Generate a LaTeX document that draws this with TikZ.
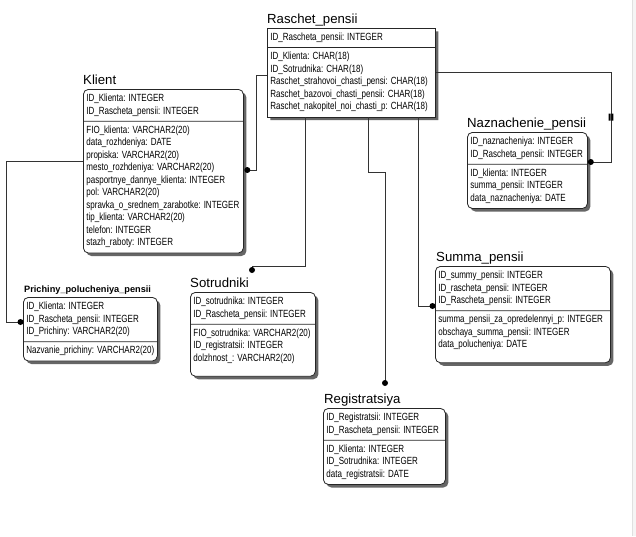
\documentclass[tikz,border=0pt]{standalone}
\usepackage{fontspec}
\setmainfont{Liberation Sans}
\newfontfamily\narrowfont[FakeStretch=0.77]{Liberation Sans}
\usetikzlibrary{shapes.multipart,shadows,calc}
\newcommand{\fields}[1]{\strut#1\strut}
\newcommand{\padbottom}{\rule[-11.5pt]{0pt}{0pt}}

\begin{document}
\begin{tikzpicture}[
  x=1pt, y=-1pt,
  entity/.style={rectangle split, rectangle split parts=2,
    rectangle split part align={left}, align=left, anchor=north west,
    draw=black!85, line width=0.8pt, fill=white, rounded corners=5pt,
    inner xsep=3pt, inner ysep=3pt,
    font=\narrowfont\fontsize{10.4}{12.5}\selectfont,
    drop shadow={shadow xshift=3pt, shadow yshift=-3pt,
      fill=black!60, opacity=1}},
  enttitle/.style={anchor=base west, inner sep=0pt,
    font=\fontsize{13.2}{15}\selectfont},
  link/.style={draw=black!80, line width=0.8pt},
  joindot/.style={circle, fill=black, inner sep=0pt, minimum size=6pt}
]
\fill[white] (0,0) rectangle (636,536);
\useasboundingbox (0,0) rectangle (636,536);
\fill[black!4] (632,0) rectangle (636,536);
\draw[black!12] (632,0) -- (632,536);

\node[entity, sharp corners, minimum width=168pt] (raschet) at (267,28) {%
  \fields{ID\_Rascheta\_pensii: INTEGER}
  \nodepart{second}\fields{ID\_Klienta: CHAR(18)\\
  ID\_Sotrudnika: CHAR(18)\\
  Raschet\_strahovoi\_chasti\_pensi: CHAR(18)\\
  Raschet\_bazovoi\_chasti\_pensii: CHAR(18)\\
  Raschet\_nakopitel\_noi\_chasti\_p: CHAR(18)}};
\node[entity, minimum width=160pt] (klient) at (83,89) {%
  \fields{ID\_Klienta: INTEGER\\
  ID\_Rascheta\_pensii: INTEGER}
  \nodepart{second}\fields{FIO\_klienta: VARCHAR2(20)\\
  data\_rozhdeniya: DATE\\
  propiska: VARCHAR2(20)\\
  mesto\_rozhdeniya: VARCHAR2(20)\\
  pasportnye\_dannye\_klienta: INTEGER\\
  pol: VARCHAR2(20)\\
  spravka\_o\_srednem\_zarabotke: INTEGER\\
  tip\_klienta: VARCHAR2(20)\\
  telefon: INTEGER\\
  stazh\_raboty: INTEGER}};
\node[entity, minimum width=120pt] (naznachenie) at (467,132) {%
  \fields{ID\_naznacheniya: INTEGER\\
  ID\_Rascheta\_pensii: INTEGER}
  \nodepart{second}\fields{ID\_klienta: INTEGER\\
  summa\_pensii: INTEGER\\
  data\_naznacheniya: DATE}};
\node[entity, minimum width=134pt] (prichiny) at (23,297) {%
  \fields{ID\_Klienta: INTEGER\\
  ID\_Rascheta\_pensii: INTEGER\\
  ID\_Prichiny: VARCHAR2(20)}
  \nodepart{second}\fields{Nazvanie\_prichiny: VARCHAR2(20)}};
\node[entity, minimum width=125pt] (sotrudniki) at (190,292) {%
  \fields{ID\_sotrudnika: INTEGER\\
  ID\_Rascheta\_pensii: INTEGER}
  \nodepart{second}\fields{FIO\_sotrudnika: VARCHAR2(20)\\
  ID\_registratsii: INTEGER\\
  dolzhnost\_: VARCHAR2(20)}\padbottom};
\node[entity, minimum width=175pt] (summa) at (435,266) {%
  \fields{ID\_summy\_pensii: INTEGER\\
  ID\_rascheta\_pensii: INTEGER\\
  ID\_Rascheta\_pensii: INTEGER}
  \nodepart{second}\fields{summa\_pensii\_za\_opredelennyi\_p: INTEGER\\
  obschaya\_summa\_pensii: INTEGER\\
  data\_polucheniya: DATE}\padbottom};
\node[entity, minimum width=122pt] (registratsiya) at (323,408) {%
  \fields{ID\_Registratsii: INTEGER\\
  ID\_Rascheta\_pensii: INTEGER}
  \nodepart{second}\fields{ID\_Klienta: INTEGER\\
  ID\_Sotrudnika: INTEGER\\
  data\_registratsii: DATE}};

% entity names
\node[enttitle] (raschetT) at ([yshift=4.5pt]raschet.north west) {Raschet\_pensii};
\node[enttitle] (klientT) at ([yshift=4.5pt]klient.north west) {Klient};
\node[enttitle] (naznachenieT) at ([yshift=4.5pt]naznachenie.north west) {Naznachenie\_pensii};
\node[enttitle, font=\bfseries\fontsize{9.2}{11}\selectfont] (prichinyT)
  at ([xshift=1pt,yshift=4.5pt]prichiny.north west) {Prichiny\_polucheniya\_pensii};
\node[enttitle] (sotrudnikiT) at ([yshift=5pt]sotrudniki.north west) {Sotrudniki};
\node[enttitle] (summaT) at ([xshift=1pt,yshift=5pt]summa.north west) {Summa\_pensii};
\node[enttitle] (registratsiyaT) at ([xshift=1pt,yshift=5pt]registratsiya.north west) {Registratsiya};

% relationship ends
\coordinate (toPr) at ($(prichiny.west |- 0,322)+(-2.5,0)$);
\coordinate (toKl) at ($(klient.east |- 0,170)+(3.5,0)$);
\coordinate (toSo) at ($(sotrudniki.north west)+(62,-22)$);
\coordinate (toRe) at ($(registratsiya.north west)+(62,-25)$);
\coordinate (toSu) at ($(summa.west |- 0,306)+(-2.5,0)$);
\coordinate (toNa) at ($(naznachenie.east |- 0,162)+(3,0)$);

\draw[link] (klient.west |- 0,161) -- (6,161) |- (toPr) node[joindot] (dPr) {};
\draw[link] (raschet.west |- 0,75) -| (256,170) -- (toKl) node[joindot] (dKl) {};
\draw[link] (raschet.south -| 305,0) |- (toSo |- 0,266) -- (toSo) node[joindot] (dSo) {};
\draw[link] (raschet.south -| 368,0) |- (toRe |- 0,172) -- (toRe) node[joindot] (dRe) {};
\draw[link] (raschet.south -| 418,0) |- (toSu) node[joindot] (dSu) {};
\draw[link] (raschet.east |- 0,72) -| (611,162) -- (toNa) node[joindot] (dNa) {};
\fill (608.6,113.5) rectangle (610.6,120.5) (611.4,113.5) rectangle (613.4,120.5);
\end{tikzpicture}
\end{document}
